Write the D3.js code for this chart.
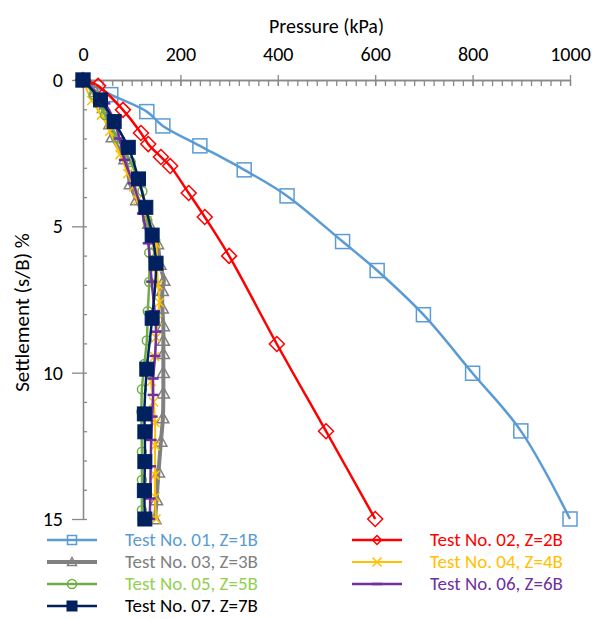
<!DOCTYPE html>
<html><head><meta charset="utf-8">
<script src="https://cdn.jsdelivr.net/npm/d3@7"></script>
<style>
body{margin:0;background:#fff}
svg{display:block}
text{font-family:Carlito, Calibri, Lato, "Open Sans", sans-serif}
</style>
</head><body>
<svg id="c" width="592" height="619"></svg>
<script>
// ---------- data ----------
const xTicks = [0, 200, 400, 600, 800, 1000];
const yTicks = [0, 5, 10, 15];
const xTitle = "Pressure (kPa)";
const yTitle = "Settlement (s/B) %";

const seriesNames = ["Test No. 01, Z=1B","Test No. 02, Z=2B","Test No. 03, Z=3B","Test No. 04, Z=4B","Test No. 05, Z=5B","Test No. 06, Z=6B","Test No. 07. Z=7B"];

const t01Pressure = [0, 57, 131, 164, 240, 331, 419, 533, 604, 699, 800, 899, 1000];
const t01Settle   = [0, 0.5, 1.08, 1.57, 2.25, 3.07, 3.96, 5.52, 6.51, 8.02, 10.02, 11.99, 15];

const t02Pressure = [0, 31, 82, 119, 134, 160, 179, 217, 250, 300, 398, 499, 600];
const t02Settle   = [0, 0.2, 1.02, 1.81, 2.19, 2.63, 2.94, 3.86, 4.68, 6.01, 9.02, 12, 15];

const t03Pressure = [0, 25, 42, 55, 60, 86, 97, 110, 135, 153, 158, 166, 163, 163, 165, 165, 165, 165, 165, 164, 160, 155, 151, 148];
const t03Settle   = [0, 0.4, 0.95, 1.5, 1.95, 2.7, 3.55, 4.1, 4.9, 5.6, 6.3, 6.85, 7.2, 7.8, 8.4, 8.9, 9.35, 10.0, 10.7, 11.55, 12.35, 13.4, 14.35, 15];

const t04Pressure = [0, 18, 38, 55, 76, 92, 104, 112, 132, 150, 152, 154, 157, 153, 150, 147, 140, 145, 148, 148, 148, 148, 150];
const t04Settle   = [0, 0.7, 1.2, 1.75, 2.55, 3.2, 3.65, 4.1, 4.8, 5.6, 6.4, 7.0, 7.6, 8.2, 8.8, 9.45, 10.3, 11.0, 11.7, 12.5, 13.5, 14.25, 15];

const t05Pressure = [0, 22, 45, 72, 98, 122, 132, 136, 136, 133, 131, 126, 121, 120, 121, 121, 121, 122];
const t05Settle   = [0, 0.5, 1.2, 2.0, 2.8, 3.8, 4.8, 5.9, 6.9, 7.9, 8.9, 9.7, 10.57, 11.33, 12.7, 13.67, 14.7, 15];

const t06Pressure = [0, 45, 62, 75, 85, 103, 122, 134, 141, 147, 150, 148, 144, 144, 142, 140, 139, 138, 137];
const t06Settle   = [0, 0.8, 1.31, 2.0, 2.73, 3.53, 4.56, 5.58, 6.89, 7.9, 8.6, 9.43, 10.2, 10.76, 11.5, 12.3, 13.2, 14.3, 15];

const t07Pressure = [0, 36, 64, 93, 114, 129, 142, 150, 142, 131, 126, 127, 127, 126, 127];
const t07Settle   = [0, 0.68, 1.42, 2.3, 3.38, 4.35, 5.3, 6.26, 8.14, 9.88, 11.41, 12.02, 13.04, 14.03, 15];

const seriesColors = ["#5B9BD5","#FF0000","#808080","#FFC000","#70AD47","#7030A0","#002060"];
const legendTextColors = ["#5B9BD5","#FF0000","#808080","#FFC000","#92D050","#7030A0","#000000"];
const seriesWidths = [2.5, 2.5, 4, 2, 2.5, 2.5, 2.5];
const seriesMarkers = ["square","diamond","triangle","x","circle","dash","filledSquare"];

// ---------- build ----------
const pressures = [t01Pressure,t02Pressure,t03Pressure,t04Pressure,t05Pressure,t06Pressure,t07Pressure];
const settles = [t01Settle,t02Settle,t03Settle,t04Settle,t05Settle,t06Settle,t07Settle];
const series = seriesNames.map((n,i)=>({
  name:n, color:seriesColors[i], textColor:legendTextColors[i], width:seriesWidths[i], marker:seriesMarkers[i],
  pts: pressures[i].map((p,j)=>({p, s:settles[i][j]}))
}));

const svg = d3.select("#c");
const x = d3.scaleLinear().domain([0,1000]).range([83,570]);
const y = d3.scaleLinear().domain([0,15]).range([80,519]);
const axisColor = "#898989";
const FS = 20;
const LFS = 19;

// x axis (top)
const gx = svg.append("g").attr("transform",`translate(0,${y(0)})`);
gx.call(d3.axisTop(x).tickValues(d3.range(0,1001,20)).tickSizeInner(-6).tickSizeOuter(0).tickFormat(""));
const gx2 = svg.append("g").attr("transform",`translate(0,${y(0)})`);
gx2.call(d3.axisTop(x).tickValues(xTicks).tickSizeInner(5).tickSizeOuter(0).tickPadding(14).tickFormat(d3.format("d")));
[gx,gx2].forEach(g=>{g.selectAll("line,path").attr("stroke",axisColor).attr("stroke-width",1.3); g.selectAll("text").attr("fill","#000").style("font-size",FS+"px");});
const gx3 = svg.append("g").attr("transform",`translate(0,${y(0)})`);
gx3.call(d3.axisTop(x).tickValues(xTicks).tickSizeInner(-6).tickSizeOuter(0).tickFormat(""));
gx3.selectAll("line").attr("stroke",axisColor).attr("stroke-width",1.3);
gx3.select("path").remove();

// y axis (left)
const gy = svg.append("g").attr("transform",`translate(${x(0)},0)`);
gy.call(d3.axisLeft(y).tickValues(d3.range(0,16,1)).tickSizeInner(-4).tickSizeOuter(0).tickFormat(""));
const gy2 = svg.append("g").attr("transform",`translate(${x(0)},0)`);
gy2.call(d3.axisLeft(y).tickValues(yTicks).tickSizeInner(11).tickSizeOuter(0).tickPadding(9).tickFormat(d3.format("d")));
[gy,gy2].forEach(g=>{g.selectAll("line,path").attr("stroke",axisColor).attr("stroke-width",1.3); g.selectAll("text").attr("fill","#000").style("font-size",FS+"px");});

// titles
svg.append("text").attr("x",(x(0)+x(1000))/2).attr("y",33).attr("text-anchor","middle").style("font-size",FS+"px").text(xTitle);
svg.append("text").attr("transform",`translate(29,${(y(0)+y(15))/2 + 13}) rotate(-90)`).attr("text-anchor","middle").style("font-size",(FS+1)+"px").text(yTitle);

// markers
function drawMarker(g, type, color, size){
  const h = size/2;
  if(type==="square"){
    g.append("rect").attr("x",-h).attr("y",-h).attr("width",size).attr("height",size).attr("fill","none").attr("stroke",color).attr("stroke-width",1.5);
  } else if(type==="filledSquare"){
    g.append("rect").attr("x",-h).attr("y",-h).attr("width",size).attr("height",size).attr("fill",color).attr("stroke",color).attr("stroke-width",1);
  } else if(type==="diamond"){
    g.append("path").attr("d",`M0,${-h}L${h},0L0,${h}L${-h},0Z`).attr("fill","none").attr("stroke",color).attr("stroke-width",1.5);
  } else if(type==="triangle"){
    g.append("path").attr("d",`M0,${-h}L${h},${h*0.8}L${-h},${h*0.8}Z`).attr("fill","none").attr("stroke",color).attr("stroke-width",1.5);
  } else if(type==="circle"){
    g.append("circle").attr("r",h).attr("fill","none").attr("stroke",color).attr("stroke-width",1.5);
  } else if(type==="x"){
    g.append("path").attr("d",`M${-h},${-h}L${h},${h}M${-h},${h}L${h},${-h}`).attr("stroke",color).attr("stroke-width",1.5);
  } else if(type==="dash"){
    g.append("path").attr("d",`M${-h},0L${h},0`).attr("stroke",color).attr("stroke-width",2.5);
  }
}
const markerSizes = {square:14, filledSquare:14, diamond:15, triangle:12, circle:9, x:9, dash:11};

const line = d3.line().x(d=>x(d.p)).y(d=>y(d.s)).curve(d3.curveCatmullRom.alpha(0.5));
const plot = svg.append("g");
series.forEach(s=>{
  const g = plot.append("g");
  g.append("path").attr("d",line(s.pts)).attr("fill","none").attr("stroke",s.color).attr("stroke-width",s.width).attr("stroke-linejoin","round");
  s.pts.forEach(d=>{
    const m = g.append("g").attr("transform",`translate(${x(d.p)},${y(d.s)})`);
    drawMarker(m, s.marker, s.color, markerSizes[s.marker]);
  });
});

// legend
const legendCols = [47, 352];
const legendRows = [540, 562, 584, 606];
const legendMarkerSizes = {square:9, filledSquare:10, diamond:9, triangle:9, circle:9, x:9, dash:10};
series.forEach((s,i)=>{
  const col = i%2, row = Math.floor(i/2);
  const lx = legendCols[col], ly = legendRows[row];
  const g = svg.append("g").attr("transform",`translate(${lx},${ly})`);
  g.append("line").attr("x1",0).attr("x2",50).attr("y1",0).attr("y2",0).attr("stroke",s.color).attr("stroke-width",s.width);
  const m = g.append("g").attr("transform","translate(25,0)");
  drawMarker(m, s.marker, s.color, legendMarkerSizes[s.marker]);
  g.append("text").attr("x",78).attr("y",6).style("font-size",LFS+"px").attr("fill",s.textColor).text(s.name);
});
</script>
</body></html>
